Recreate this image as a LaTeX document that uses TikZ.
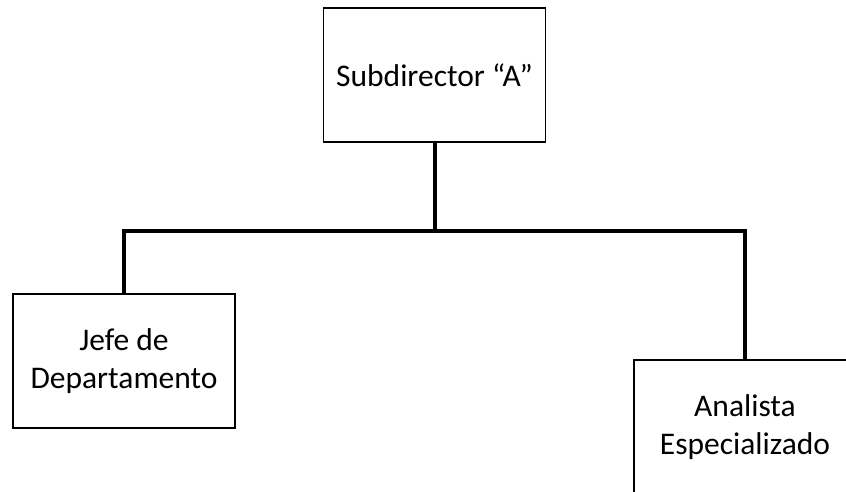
\documentclass[tikz,border=0pt]{standalone}
\usepackage{fontspec}
\setmainfont{Carlito}
\begin{document}
\begin{tikzpicture}[x=1pt,y=-1pt,
  post/.style={draw=black, line width=1.4pt, fill=white,
    minimum width=222pt, minimum height=134pt, inner sep=0pt,
    align=center, font=\fontsize{31.5}{38}\selectfont},
  conn/.style={draw=black, line width=4pt, line join=miter}]
  \useasboundingbox (0,0) rectangle (846,491);
  \clip (0,0) rectangle (846,491);
  % org chart boxes
  \node[post] (sub) at (434.5,75) {Subdirector “A”};
  \node[post] (jefe) at (124,361) {Jefe de\\Departamento};
  \node[post] (anal) at (745,427) {Analista\\Especializado};
  % bus line joining the branches
  \coordinate (bus) at (434.5,231);
  \draw[conn] (sub.south) -- (bus);
  \draw[conn] (jefe.north) |- (bus) -| (anal.north);
\end{tikzpicture}
\end{document}
